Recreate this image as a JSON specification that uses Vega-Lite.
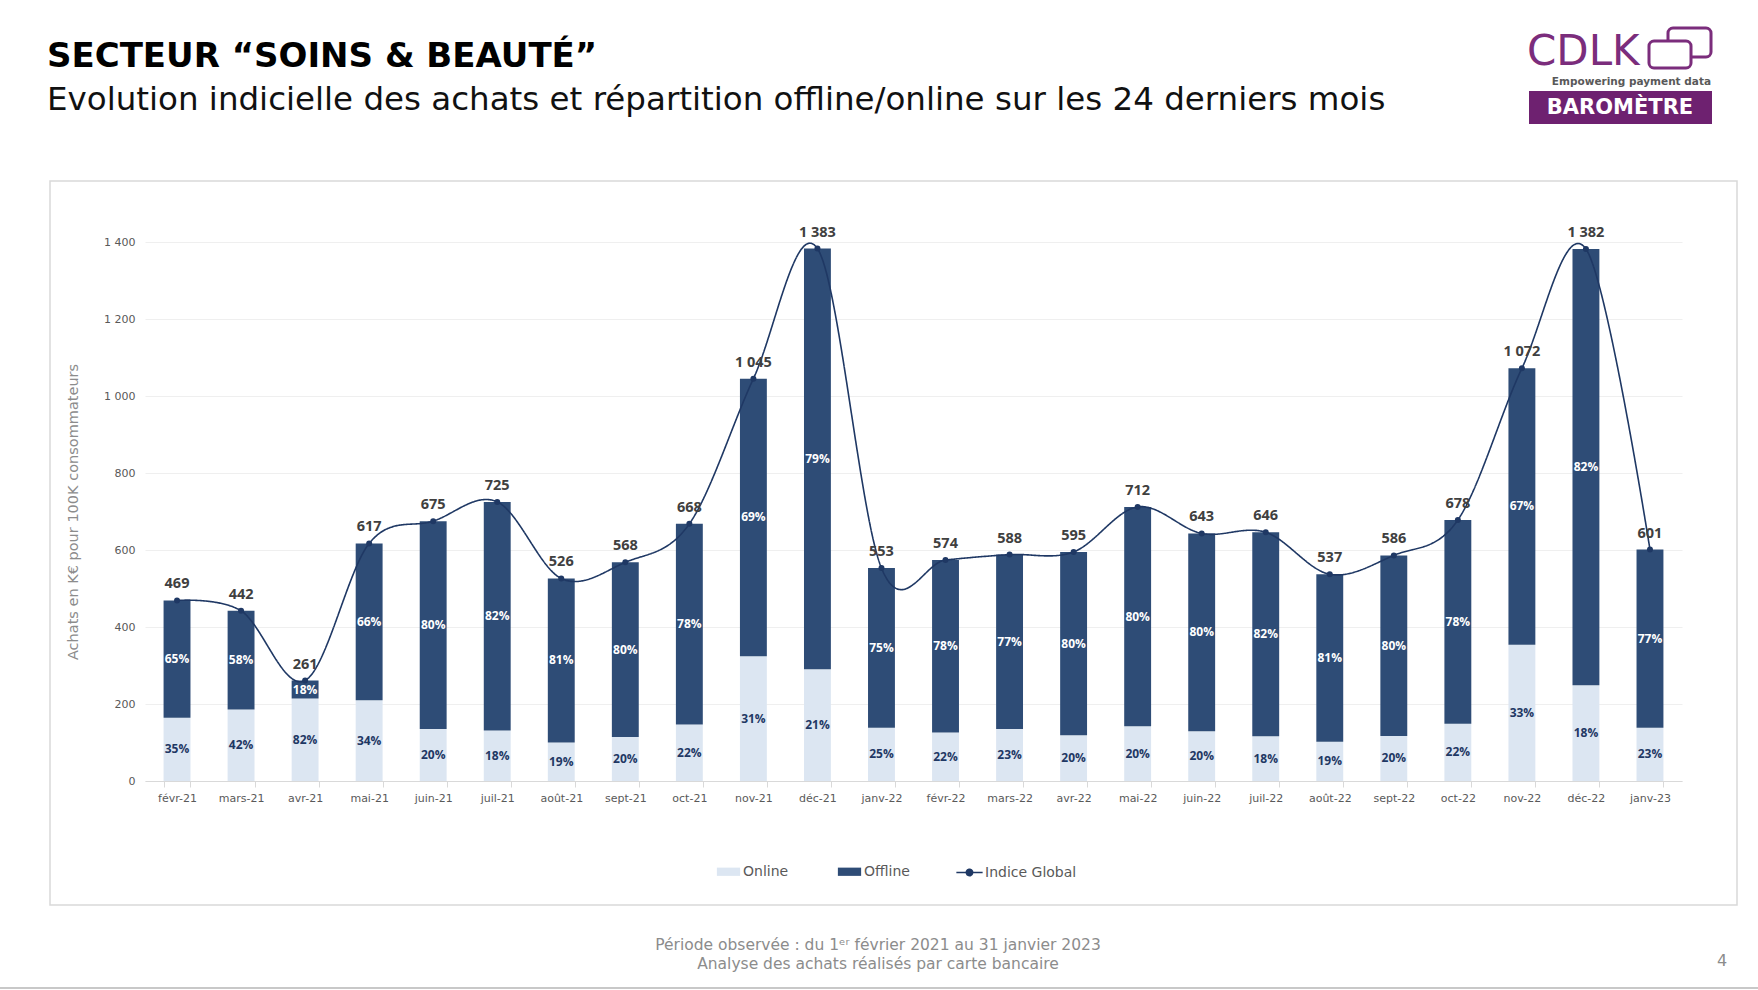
{
  "$schema": "https://vega.github.io/schema/vega-lite/v6.json",
  "autosize": {"type": "none"},
  "width": 1537,
  "height": 539,
  "padding": {"left": 145, "top": 242, "right": 76, "bottom": 209},
  "background": "#ffffff",
  "datasets": {
    "totaux": [
      {"mois": "févr-21", "total": 469},
      {"mois": "mars-21", "total": 442},
      {"mois": "avr-21", "total": 261},
      {"mois": "mai-21", "total": 617},
      {"mois": "juin-21", "total": 675},
      {"mois": "juil-21", "total": 725},
      {"mois": "août-21", "total": 526},
      {"mois": "sept-21", "total": 568},
      {"mois": "oct-21", "total": 668},
      {"mois": "nov-21", "total": 1045},
      {"mois": "déc-21", "total": 1383},
      {"mois": "janv-22", "total": 553},
      {"mois": "févr-22", "total": 574},
      {"mois": "mars-22", "total": 588},
      {"mois": "avr-22", "total": 595},
      {"mois": "mai-22", "total": 712},
      {"mois": "juin-22", "total": 643},
      {"mois": "juil-22", "total": 646},
      {"mois": "août-22", "total": 537},
      {"mois": "sept-22", "total": 586},
      {"mois": "oct-22", "total": 678},
      {"mois": "nov-22", "total": 1072},
      {"mois": "déc-22", "total": 1382},
      {"mois": "janv-23", "total": 601}
    ],
    "parts": [
      {"mois": "févr-21", "canal": "Online", "valeur": 164, "part": 0.35},
      {"mois": "févr-21", "canal": "Offline", "valeur": 305, "part": 0.65},
      {"mois": "mars-21", "canal": "Online", "valeur": 186, "part": 0.42},
      {"mois": "mars-21", "canal": "Offline", "valeur": 256, "part": 0.58},
      {"mois": "avr-21", "canal": "Online", "valeur": 214, "part": 0.82},
      {"mois": "avr-21", "canal": "Offline", "valeur": 47, "part": 0.18},
      {"mois": "mai-21", "canal": "Online", "valeur": 210, "part": 0.34},
      {"mois": "mai-21", "canal": "Offline", "valeur": 407, "part": 0.66},
      {"mois": "juin-21", "canal": "Online", "valeur": 135, "part": 0.20},
      {"mois": "juin-21", "canal": "Offline", "valeur": 540, "part": 0.80},
      {"mois": "juil-21", "canal": "Online", "valeur": 131, "part": 0.18},
      {"mois": "juil-21", "canal": "Offline", "valeur": 594, "part": 0.82},
      {"mois": "août-21", "canal": "Online", "valeur": 100, "part": 0.19},
      {"mois": "août-21", "canal": "Offline", "valeur": 426, "part": 0.81},
      {"mois": "sept-21", "canal": "Online", "valeur": 114, "part": 0.20},
      {"mois": "sept-21", "canal": "Offline", "valeur": 454, "part": 0.80},
      {"mois": "oct-21", "canal": "Online", "valeur": 147, "part": 0.22},
      {"mois": "oct-21", "canal": "Offline", "valeur": 521, "part": 0.78},
      {"mois": "nov-21", "canal": "Online", "valeur": 324, "part": 0.31},
      {"mois": "nov-21", "canal": "Offline", "valeur": 721, "part": 0.69},
      {"mois": "déc-21", "canal": "Online", "valeur": 290, "part": 0.21},
      {"mois": "déc-21", "canal": "Offline", "valeur": 1093, "part": 0.79},
      {"mois": "janv-22", "canal": "Online", "valeur": 138, "part": 0.25},
      {"mois": "janv-22", "canal": "Offline", "valeur": 415, "part": 0.75},
      {"mois": "févr-22", "canal": "Online", "valeur": 126, "part": 0.22},
      {"mois": "févr-22", "canal": "Offline", "valeur": 448, "part": 0.78},
      {"mois": "mars-22", "canal": "Online", "valeur": 135, "part": 0.23},
      {"mois": "mars-22", "canal": "Offline", "valeur": 453, "part": 0.77},
      {"mois": "avr-22", "canal": "Online", "valeur": 119, "part": 0.20},
      {"mois": "avr-22", "canal": "Offline", "valeur": 476, "part": 0.80},
      {"mois": "mai-22", "canal": "Online", "valeur": 142, "part": 0.20},
      {"mois": "mai-22", "canal": "Offline", "valeur": 570, "part": 0.80},
      {"mois": "juin-22", "canal": "Online", "valeur": 129, "part": 0.20},
      {"mois": "juin-22", "canal": "Offline", "valeur": 514, "part": 0.80},
      {"mois": "juil-22", "canal": "Online", "valeur": 116, "part": 0.18},
      {"mois": "juil-22", "canal": "Offline", "valeur": 530, "part": 0.82},
      {"mois": "août-22", "canal": "Online", "valeur": 102, "part": 0.19},
      {"mois": "août-22", "canal": "Offline", "valeur": 435, "part": 0.81},
      {"mois": "sept-22", "canal": "Online", "valeur": 117, "part": 0.20},
      {"mois": "sept-22", "canal": "Offline", "valeur": 469, "part": 0.80},
      {"mois": "oct-22", "canal": "Online", "valeur": 149, "part": 0.22},
      {"mois": "oct-22", "canal": "Offline", "valeur": 529, "part": 0.78},
      {"mois": "nov-22", "canal": "Online", "valeur": 354, "part": 0.33},
      {"mois": "nov-22", "canal": "Offline", "valeur": 718, "part": 0.67},
      {"mois": "déc-22", "canal": "Online", "valeur": 249, "part": 0.18},
      {"mois": "déc-22", "canal": "Offline", "valeur": 1133, "part": 0.82},
      {"mois": "janv-23", "canal": "Online", "valeur": 138, "part": 0.23},
      {"mois": "janv-23", "canal": "Offline", "valeur": 463, "part": 0.77}
    ]
  },
  "layer": [
    {
      "data": {"values": [{}]},
      "mark": {"type": "rect", "fill": null, "stroke": "#d9d9d9", "strokeWidth": 1.5},
      "encoding": {"x": {"value": -95}, "x2": {"value": 1592}, "y": {"value": -61}, "y2": {"value": 663}}
    },
    {
      "data": {"name": "parts"},
      "mark": {"type": "bar"},
      "encoding": {
        "x": {
          "field": "mois", "type": "nominal",
          "sort": ["févr-21","mars-21","avr-21","mai-21","juin-21","juil-21","août-21","sept-21","oct-21","nov-21","déc-21","janv-22","févr-22","mars-22","avr-22","mai-22","juin-22","juil-22","août-22","sept-22","oct-22","nov-22","déc-22","janv-23"],
          "scale": {"paddingInner": 0.58, "paddingOuter": 0.29},
          "axis": {"title": null, "labelAngle": 0, "domainColor": "#d9d9d9", "tickColor": "#d9d9d9", "tickSize": 6, "tickBand": "extent", "labelPadding": 5, "labelFont": "DejaVu Sans", "labelFontSize": 11, "labelColor": "#595959"}
        },
        "y": {
          "field": "valeur", "type": "quantitative", "stack": "zero",
          "scale": {"domain": [0, 1400], "nice": false},
          "axis": {
            "values": [0, 200, 400, 600, 800, 1000, 1200, 1400],
            "format": ",d",
            "domain": false, "ticks": false,
            "gridColor": "#efefef", "gridWidth": 1,
            "labelPadding": 10, "labelFont": "DejaVu Sans", "labelFontSize": 11, "labelColor": "#595959",
            "title": "Achats en K€ pour 100K consommateurs",
            "titleFont": "DejaVu Sans", "titleFontSize": 14.5, "titleFontWeight": "normal", "titleColor": "#8c8c8c", "titlePadding": 23
          }
        },
        "color": {
          "field": "canal", "type": "nominal",
          "scale": {"domain": ["Online", "Offline"], "range": ["#dce6f2", "#2e4c76"]},
          "legend": {
            "title": null, "orient": "none", "direction": "horizontal",
            "legendX": 576, "legendY": 622, "padding": 0,
            "symbolType": "M-1.55,-0.55H1.55V0.55H-1.55Z", "symbolSize": 225, "symbolStrokeWidth": 0,
            "labelOffset": 7, "columnPadding": 48,
            "labelFont": "DejaVu Sans", "labelFontSize": 14, "labelColor": "#595959"
          }
        },
        "order": {"field": "canal", "sort": "descending"}
      }
    },
    {
      "data": {"name": "parts"},
      "mark": {"type": "text", "font": "Open Sans", "fontWeight": "bold", "fontSize": 12, "baseline": "middle"},
      "encoding": {
        "x": {"field": "mois", "type": "nominal", "sort": ["févr-21","mars-21","avr-21","mai-21","juin-21","juil-21","août-21","sept-21","oct-21","nov-21","déc-21","janv-22","févr-22","mars-22","avr-22","mai-22","juin-22","juil-22","août-22","sept-22","oct-22","nov-22","déc-22","janv-23"]},
        "y": {"field": "valeur", "type": "quantitative", "stack": "zero", "bandPosition": 0.5},
        "detail": {"field": "canal", "type": "nominal"},
        "order": {"field": "canal", "sort": "descending"},
        "text": {"field": "part", "type": "quantitative", "format": ".0%"},
        "color": {"condition": {"test": "datum.canal === 'Offline'", "value": "#ffffff"}, "value": "#1f3864"}
      }
    },
    {
      "data": {"name": "totaux"},
      "mark": {"type": "line", "interpolate": "cardinal", "color": "#1f3864", "strokeWidth": 1.6},
      "encoding": {
        "x": {"field": "mois", "type": "nominal", "sort": ["févr-21","mars-21","avr-21","mai-21","juin-21","juil-21","août-21","sept-21","oct-21","nov-21","déc-21","janv-22","févr-22","mars-22","avr-22","mai-22","juin-22","juil-22","août-22","sept-22","oct-22","nov-22","déc-22","janv-23"]},
        "y": {"field": "total", "type": "quantitative"},
        "strokeDash": {
          "datum": "Indice Global", "type": "nominal",
          "scale": {"domain": ["Indice Global"], "range": [[1, 0]]},
          "legend": {
            "title": null, "orient": "none", "legendX": 816, "legendY": 622, "padding": 0,
            "symbolType": "M-1.75,0H1.75M-0.42,0A0.42,0.42,0,1,0,0.42,0A0.42,0.42,0,1,0,-0.42,0ZM-0.2,0A0.2,0.2,0,1,0,0.2,0A0.2,0.2,0,1,0,-0.2,0Z",
            "symbolSize": 225, "symbolFillColor": "#1f3864", "symbolStrokeColor": "#1f3864", "symbolStrokeWidth": 1.6,
            "labelOffset": 7, "labelFont": "DejaVu Sans", "labelFontSize": 14, "labelColor": "#595959"
          }
        }
      }
    },
    {
      "data": {"name": "totaux"},
      "mark": {"type": "point", "filled": true, "color": "#1f3864", "opacity": 1, "size": 36},
      "encoding": {
        "x": {"field": "mois", "type": "nominal", "sort": ["févr-21","mars-21","avr-21","mai-21","juin-21","juil-21","août-21","sept-21","oct-21","nov-21","déc-21","janv-22","févr-22","mars-22","avr-22","mai-22","juin-22","juil-22","août-22","sept-22","oct-22","nov-22","déc-22","janv-23"]},
        "y": {"field": "total", "type": "quantitative"}
      }
    },
    {
      "data": {"name": "totaux"},
      "mark": {"type": "text", "font": "Open Sans", "fontWeight": "bold", "fontSize": 14.5, "color": "#404040", "baseline": "alphabetic", "dy": -12},
      "encoding": {
        "x": {"field": "mois", "type": "nominal", "sort": ["févr-21","mars-21","avr-21","mai-21","juin-21","juil-21","août-21","sept-21","oct-21","nov-21","déc-21","janv-22","févr-22","mars-22","avr-22","mai-22","juin-22","juil-22","août-22","sept-22","oct-22","nov-22","déc-22","janv-23"]},
        "y": {"field": "total", "type": "quantitative"},
        "text": {"field": "total", "type": "quantitative", "format": ","}
      }
    },
    {
      "data": {"values": [{}]},
      "mark": {"type": "text", "text": "SECTEUR “SOINS & BEAUTÉ”", "font": "DejaVu Sans", "fontWeight": "bold", "fontSize": 34, "color": "#000000", "align": "left", "baseline": "alphabetic"},
      "encoding": {"x": {"value": -98}, "y": {"value": -175}}
    },
    {
      "data": {"values": [{}]},
      "mark": {"type": "text", "text": "Evolution indicielle des achats et répartition offline/online sur les 24 derniers mois", "font": "DejaVu Sans", "fontSize": 32.5, "color": "#111111", "align": "left", "baseline": "alphabetic"},
      "encoding": {"x": {"value": -98}, "y": {"value": -132}}
    },
    {
      "data": {"values": [{}]},
      "mark": {"type": "rect", "fill": null, "stroke": "#7b2d7c", "strokeWidth": 3, "cornerRadius": 5},
      "encoding": {"x": {"value": 1523}, "x2": {"value": 1566}, "y": {"value": -214}, "y2": {"value": -185}}
    },
    {
      "data": {"values": [{}]},
      "mark": {"type": "rect", "fill": "#ffffff", "stroke": "#7b2d7c", "strokeWidth": 3, "cornerRadius": 5},
      "encoding": {"x": {"value": 1504}, "x2": {"value": 1546}, "y": {"value": -201}, "y2": {"value": -174}}
    },
    {
      "data": {"values": [{}]},
      "mark": {"type": "text", "text": "CDLK", "font": "DejaVu Sans", "fontSize": 42, "color": "#7b2d7c", "align": "left", "baseline": "alphabetic"},
      "encoding": {"x": {"value": 1382}, "y": {"value": -177}}
    },
    {
      "data": {"values": [{}]},
      "mark": {"type": "text", "text": "Empowering payment data", "font": "DejaVu Sans", "fontWeight": "bold", "fontSize": 10.5, "color": "#595959", "align": "right", "baseline": "alphabetic"},
      "encoding": {"x": {"value": 1566}, "y": {"value": -157}}
    },
    {
      "data": {"values": [{}]},
      "mark": {"type": "rect", "fill": "#6e2170"},
      "encoding": {"x": {"value": 1384}, "x2": {"value": 1567}, "y": {"value": -151}, "y2": {"value": -118}}
    },
    {
      "data": {"values": [{}]},
      "mark": {"type": "text", "text": "BAROMÈTRE", "font": "DejaVu Sans", "fontWeight": "bold", "fontSize": 21, "color": "#ffffff", "align": "center", "baseline": "middle"},
      "encoding": {"x": {"value": 1475}, "y": {"value": -134}}
    },
    {
      "data": {"values": [{}]},
      "mark": {"type": "text", "text": "Période observée : du 1ᵉʳ février 2021 au 31 janvier 2023", "font": "DejaVu Sans", "fontSize": 15.5, "color": "#8c8c8c", "align": "center", "baseline": "middle"},
      "encoding": {"x": {"value": 733}, "y": {"value": 703}}
    },
    {
      "data": {"values": [{}]},
      "mark": {"type": "text", "text": "Analyse des achats réalisés par carte bancaire", "font": "DejaVu Sans", "fontSize": 15.5, "color": "#8c8c8c", "align": "center", "baseline": "middle"},
      "encoding": {"x": {"value": 733}, "y": {"value": 722}}
    },
    {
      "data": {"values": [{}]},
      "mark": {"type": "text", "text": "4", "font": "DejaVu Sans", "fontSize": 16, "color": "#8c8c8c", "align": "center", "baseline": "middle"},
      "encoding": {"x": {"value": 1577}, "y": {"value": 719}}
    },
    {
      "data": {"values": [{}]},
      "mark": {"type": "rule", "color": "#c8c8c8", "strokeWidth": 2},
      "encoding": {"x": {"value": -145}, "x2": {"value": 1613}, "y": {"value": 746}}
    }
  ],
  "config": {
    "view": {"stroke": null},
    "locale": {"number": {"decimal": ",", "thousands": " ", "grouping": [3], "currency": ["", " €"]}}
  }
}
